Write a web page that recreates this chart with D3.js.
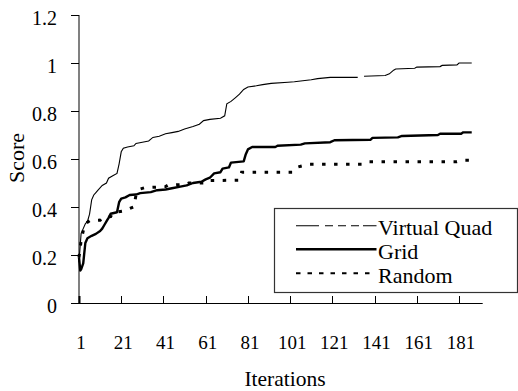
<!DOCTYPE html>
<html><head><meta charset="utf-8">
<script src="https://cdn.jsdelivr.net/npm/d3@7"></script>
<style>body{margin:0;background:#fff}svg{display:block}</style>
</head><body><svg id="c" width="518" height="391"></svg>
<script>
const seriesNames = ["Virtual Quad", "Grid", "Random"];
const xTicks = [1, 21, 41, 61, 81, 101, 121, 141, 161, 181];
const yTicks = [0, 0.2, 0.4, 0.6, 0.8, 1, 1.2];
const yTickLabels = ["0", "0.2", "0.4", "0.6", "0.8", "1", "1.2"];

const vqIter = [1,2,3,4,5,6,7,8,9,10,12,14,15,17,19,20,21,22,24,27,28,31,34,36,39,42,45,48,51,55,58,60,63,68,70,71,73,75,77,79,81,85,88,92,100,103,111,114,120,133,134.5,136,146,148,150,151,160,161,172,173,180,181,187];
const vqVal  = [0.17,0.29,0.31,0.33,0.34,0.37,0.43,0.45,0.46,0.47,0.49,0.5,0.52,0.53,0.54,0.58,0.63,0.645,0.65,0.655,0.665,0.67,0.675,0.69,0.695,0.705,0.71,0.715,0.725,0.735,0.745,0.76,0.765,0.77,0.78,0.83,0.84,0.855,0.87,0.89,0.9,0.905,0.91,0.915,0.92,0.922,0.93,0.935,0.94,0.94,null,0.945,0.948,0.955,0.97,0.975,0.978,0.983,0.985,0.99,0.992,1.0,1.0];

const gridIter = [1,1.6,2,3,4,5,7,9,11,12,13,14,15,16,19,20,21,23,25,28,30,35,38,42,45,49,52,55,59,61,63,65,68,69,72,73,79,80,81,83,94,95,106,108,120,122,139,140,152,154,171,172,182,183,187];
const gridVal  = [0.19,0.135,0.14,0.165,0.25,0.27,0.28,0.288,0.3,0.31,0.325,0.34,0.355,0.372,0.378,0.42,0.435,0.44,0.45,0.452,0.458,0.462,0.47,0.473,0.478,0.485,0.49,0.5,0.505,0.515,0.522,0.54,0.545,0.56,0.565,0.585,0.59,0.62,0.64,0.65,0.65,0.655,0.66,0.665,0.67,0.678,0.68,0.688,0.69,0.696,0.7,0.705,0.705,0.711,0.711];

const randIter = [1,2,3,4,6,11,12,16,17,22,24,27,28,30,32,42,43,52,53,62,63,77,78,102,104,106,110,135,138,180,183,187];
const randVal  = [0.19,0.26,0.3,0.33,0.343,0.345,0.355,0.36,0.376,0.383,0.39,0.401,0.45,0.475,0.48,0.485,0.49,0.495,0.5,0.5,0.51,0.512,0.545,0.545,0.565,0.57,0.578,0.578,0.589,0.589,0.595,0.595];

const FONT = "Liberation Serif";
const svg = d3.select("#c");
const x = d3.scaleLinear().domain([1, 192.2]).range([79, 482.7]);
const y = d3.scaleLinear().domain([0, 1.2]).range([303, 15]);

// y axis
svg.append("line").attr("x1",79).attr("x2",79).attr("y1",y(1.2)).attr("y2",y(0))
  .attr("stroke","#808080").attr("stroke-width",2);
const yg = svg.append("g");
yTicks.forEach((t,i)=>{
  yg.append("line").attr("x1",71).attr("x2",79).attr("y1",Math.round(y(t))+0.5).attr("y2",Math.round(y(t))+0.5)
    .attr("stroke","#000").attr("stroke-width",1);
  yg.append("text").attr("x",57).attr("y",y(t)+9.5).attr("text-anchor","end")
    .attr("font-family",FONT).attr("font-size",20).text(yTickLabels[i]);
});
// x axis
svg.append("line").attr("x1",71).attr("x2",482.7).attr("y1",303.5).attr("y2",303.5)
  .attr("stroke","#000").attr("stroke-width",1);
const xg = svg.append("g");
xTicks.forEach(t=>{
  xg.append("line").attr("x1",Math.round(x(t))+0.5).attr("x2",Math.round(x(t))+0.5).attr("y1",296).attr("y2",303)
    .attr("stroke","#000").attr("stroke-width", t===1?2:1);
  xg.append("text").attr("x",x(t)+2).attr("y",349).attr("text-anchor","middle")
    .attr("font-family",FONT).attr("font-size",19).text(t);
});
svg.append("text").attr("x",285).attr("y",386).attr("text-anchor","middle")
  .attr("font-family",FONT).attr("font-size",21.5).text("Iterations");
svg.append("text").attr("transform","translate(24,158) rotate(-90)").attr("text-anchor","middle")
  .attr("font-family",FONT).attr("font-size",22).text("Score");

function mk(iters, vals){ return iters.map((it,i)=>({it, v: vals[i]})); }
const line = d3.line().defined(d=>d.v!==null).x(d=>x(d.it)).y(d=>y(d.v));

svg.append("path").datum(mk(randIter, randVal)).attr("d",line).attr("fill","none")
  .attr("stroke","#000").attr("stroke-width",3).attr("stroke-dasharray","3.5,8.5");
svg.append("path").datum(mk(gridIter, gridVal)).attr("d",line).attr("fill","none")
  .attr("stroke","#000").attr("stroke-width",2.4).attr("stroke-linejoin","round");
svg.append("path").datum(mk(vqIter, vqVal)).attr("d",line).attr("fill","none")
  .attr("stroke","#000").attr("stroke-width",1.1);

// legend
const lg = svg.append("g");
lg.append("rect").attr("x",274.5).attr("y",208.5).attr("width",243).attr("height",84)
  .attr("fill","#fff").attr("stroke","#333").attr("stroke-width",1.2);
const legY = [225.7, 249.3, 273.3];
const legStyles = [
  {w:1.1, dash:"23,6,8,5,8,5,8,4,17"},
  {w:2.4, dash:null},
  {w:2, dash:"4.5,7"}
];
seriesNames.forEach((n,i)=>{
  const l = lg.append("line").attr("x1",296).attr("x2",376.5).attr("y1",legY[i]).attr("y2",legY[i])
    .attr("stroke","#000").attr("stroke-width",legStyles[i].w);
  if(legStyles[i].dash) l.attr("stroke-dasharray",legStyles[i].dash);
  lg.append("text").attr("x",378).attr("y",legY[i]+9.5)
    .attr("font-family",FONT).attr("font-size",22).text(n);
});
</script></body></html>
